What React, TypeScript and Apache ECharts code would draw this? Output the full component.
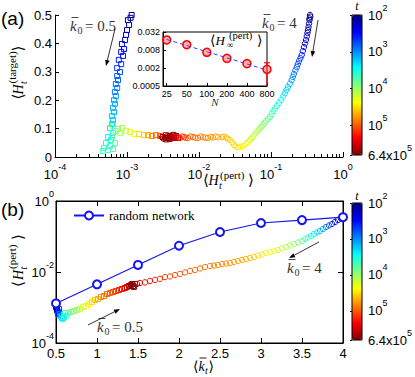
import React, { useEffect, useRef } from 'react';
import * as echarts from 'echarts';

// ---------------- data ----------------
// panel (a): [<H_t^(pert)>, <H_t^(target)>, log10 t]
const panelA_k05: number[][] = [
  [1.16e-3, 0.500, 2.00], [1.12e-3, 0.490, 2.05], [1.03e-3, 0.482, 2.10], [1.07e-3, 0.465, 2.15],
  [1.0e-3, 0.447, 2.20], [9.7e-4, 0.430, 2.30], [9.4e-4, 0.412, 2.35], [8.5e-4, 0.398, 2.40],
  [9.1e-4, 0.380, 2.45], [8.3e-4, 0.370, 2.50], [8.8e-4, 0.356, 2.55], [7.7e-4, 0.342, 2.60],
  [8.3e-4, 0.327, 2.65], [7.3e-4, 0.313, 2.70], [8.0e-4, 0.299, 2.75], [7.3e-4, 0.285, 2.80],
  [7.5e-4, 0.271, 2.85], [7.0e-4, 0.257, 2.90], [7.3e-4, 0.243, 2.95], [6.8e-4, 0.229, 3.00],
  [7.0e-4, 0.215, 3.05], [6.6e-4, 0.200, 3.10], [6.8e-4, 0.187, 3.12], [6.4e-4, 0.173, 3.15],
  [6.6e-4, 0.158, 3.18], [6.2e-4, 0.144, 3.20], [6.4e-4, 0.130, 3.25], [6.2e-4, 0.116, 3.30],
  [5.8e-4, 0.102, 3.35], [6.4e-4, 0.085, 3.40], [5.45e-4, 0.070, 3.45], [6.0e-4, 0.060, 3.50],
  [5.1e-4, 0.049, 3.55], [5.8e-4, 0.039, 3.60], [4.8e-4, 0.032, 3.62], [5.45e-4, 0.025, 3.65],
  [4.6e-4, 0.021, 3.68], [6.4e-4, 0.028, 3.70], [6.8e-4, 0.049, 3.75], [6.2e-4, 0.070, 3.80],
  [7.0e-4, 0.092, 3.85], [6.4e-4, 0.109, 3.90], [7.5e-4, 0.099, 4.00], [8.5e-4, 0.102, 4.05],
  [8.0e-4, 0.085, 4.10], [9.7e-4, 0.092, 4.20], [1.1e-3, 0.088, 4.30], [1.25e-3, 0.081, 4.40],
  [1.47e-3, 0.081, 4.50], [1.72e-3, 0.077, 4.60], [1.96e-3, 0.077, 4.70], [2.22e-3, 0.074, 4.85],
  [2.53e-3, 0.077, 4.95], [2.87e-3, 0.074, 5.05], [3.16e-3, 0.070, 5.30], [3.48e-3, 0.077, 5.50],
  [3.5e-3, 0.062, 5.70], [3.7e-3, 0.067, 5.65], [3.95e-3, 0.074, 5.75], [3.9e-3, 0.063, 5.78],
  [4.4e-3, 0.078, 5.79], [4.2e-3, 0.070, 5.80], [4.5e-3, 0.067, 5.80], [4.8e-3, 0.074, 5.80],
  [5.1e-3, 0.067, 5.75],
];
const panelA_k4: number[][] = [
  [0.348, 0.500, 2.00], [0.352, 0.494, 2.00], [0.343, 0.488, 2.03], [0.343, 0.482, 2.06],
  [0.338, 0.470, 2.10], [0.332, 0.458, 2.15], [0.326, 0.447, 2.20], [0.321, 0.437, 2.25],
  [0.314, 0.425, 2.30], [0.306, 0.412, 2.35], [0.297, 0.400, 2.40], [0.287, 0.387, 2.45],
  [0.277, 0.373, 2.52], [0.267, 0.359, 2.60], [0.256, 0.348, 2.65], [0.245, 0.338, 2.70],
  [0.236, 0.327, 2.75], [0.228, 0.317, 2.80], [0.218, 0.305, 2.88], [0.208, 0.292, 2.95],
  [0.201, 0.282, 3.00], [0.194, 0.271, 3.05], [0.183, 0.258, 3.12], [0.172, 0.246, 3.20],
  [0.164, 0.236, 3.25], [0.156, 0.225, 3.30], [0.147, 0.213, 3.38], [0.138, 0.201, 3.45],
  [0.129, 0.190, 3.50], [0.121, 0.180, 3.55], [0.114, 0.171, 3.60], [0.107, 0.162, 3.65],
  [0.102, 0.152, 3.70], [0.0968, 0.141, 3.75], [0.091, 0.134, 3.80], [0.0853, 0.127, 3.85],
  [0.081, 0.120, 3.90], [0.0774, 0.113, 3.95], [0.074, 0.108, 3.97], [0.0703, 0.102, 4.00],
  [0.067, 0.095, 4.05], [0.0632, 0.088, 4.10], [0.059, 0.079, 4.15], [0.0562, 0.070, 4.20],
  [0.053, 0.065, 4.22], [0.0511, 0.060, 4.25], [0.048, 0.053, 4.28], [0.045, 0.046, 4.30],
  [0.042, 0.040, 4.35], [0.0395, 0.037, 4.40], [0.037, 0.036, 4.42], [0.0348, 0.035, 4.45],
  [0.032, 0.038, 4.48], [0.0306, 0.042, 4.50], [0.029, 0.051, 4.52], [0.027, 0.060, 4.55],
  [0.025, 0.065, 4.58], [0.0237, 0.069, 4.60], [0.022, 0.071, 4.62], [0.0208, 0.070, 4.65],
  [0.0184, 0.070, 4.70], [0.017, 0.072, 4.72], [0.0156, 0.069, 4.75], [0.0145, 0.071, 4.78],
  [0.0133, 0.067, 4.80], [0.0124, 0.068, 4.83], [0.0114, 0.069, 4.85], [0.0105, 0.072, 4.88],
  [0.0097, 0.067, 4.90], [0.0089, 0.068, 4.92], [0.00826, 0.070, 4.95], [0.0076, 0.072, 4.97],
  [0.00703, 0.067, 5.00], [0.0065, 0.068, 5.05], [0.00619, 0.070, 5.10], [0.0058, 0.072, 5.15],
  [0.00545, 0.067, 5.20], [0.0051, 0.069, 5.28], [0.0048, 0.070, 5.35], [0.0045, 0.072, 5.42],
  [0.00422, 0.067, 5.50], [0.0040, 0.068, 5.58], [0.00371, 0.070, 5.65], [0.0035, 0.072, 5.70],
  [0.00337, 0.067, 5.75], [0.0032, 0.065, 5.78], [0.00306, 0.070, 5.80],
];
// panel (b): [<k_t>, <H_t^(pert)>, log10 t]
const panelB_k05: number[][] = [
  [0.5, 1.26e-3, 2.0], [0.505, 1.15e-3, 2.05], [0.5, 1.03e-3, 2.1], [0.51, 9.5e-4, 2.2],
  [0.512, 8.5e-4, 2.3], [0.52, 7.8e-4, 2.4], [0.524, 7.0e-4, 2.5], [0.537, 9.1e-4, 2.7],
  [0.53, 6.4e-4, 2.8], [0.549, 6.6e-4, 2.9], [0.561, 5.8e-4, 3.1], [0.573, 5.1e-4, 3.3],
  [0.585, 4.8e-4, 3.4], [0.598, 5.4e-4, 3.5], [0.61, 7.0e-4, 3.6], [0.62, 5.8e-4, 3.65],
  [0.646, 7.0e-4, 3.75], [0.683, 7.5e-4, 3.85], [0.72, 8.0e-4, 3.95], [0.756, 8.5e-4, 4.05],
  [0.793, 9.1e-4, 4.15], [0.829, 1.03e-3, 4.25], [0.866, 1.1e-3, 4.35], [0.902, 1.26e-3, 4.45],
  [0.939, 1.43e-3, 4.5], [0.976, 1.63e-3, 4.6], [1.012, 1.73e-3, 4.7], [1.049, 1.98e-3, 4.8],
  [1.085, 2.11e-3, 4.9], [1.122, 2.4e-3, 4.95], [1.159, 2.56e-3, 5.0], [1.195, 2.73e-3, 5.05],
  [1.232, 2.92e-3, 5.15], [1.268, 3.11e-3, 5.2], [1.305, 3.32e-3, 5.3], [1.341, 3.54e-3, 5.4],
  [1.366, 3.78e-3, 5.5], [1.39, 4.03e-3, 5.6], [1.415, 4.3e-3, 5.7], [1.439, 4.03e-3, 5.8],
  [1.463, 4.6e-3, 5.8], [1.43, 4.6e-3, 5.8], [1.45, 3.8e-3, 5.8],
];
const panelB_k4: number[][] = [
  [4.0, 0.354, 2.0], [3.995, 0.36, 2.0], [3.99, 0.345, 2.02], [3.985, 0.33, 2.08],
  [3.976, 0.321, 2.15], [3.939, 0.292, 2.3], [3.902, 0.256, 2.45], [3.866, 0.225, 2.6],
  [3.829, 0.204, 2.75], [3.793, 0.185, 2.9], [3.756, 0.163, 3.05], [3.72, 0.143, 3.2],
  [3.683, 0.13, 3.3], [3.646, 0.1175, 3.4], [3.61, 0.103, 3.5], [3.573, 0.0937, 3.6],
  [3.537, 0.0851, 3.7], [3.5, 0.0747, 3.8], [3.451, 0.0678, 3.9], [3.402, 0.0615, 4.0],
  [3.354, 0.0557, 4.05], [3.305, 0.0506, 4.1], [3.256, 0.0459, 4.15], [3.207, 0.0417, 4.2],
  [3.159, 0.0391, 4.3], [3.11, 0.0366, 4.35], [3.061, 0.0343, 4.4], [3.012, 0.0311, 4.45],
  [2.963, 0.0292, 4.5], [2.915, 0.0265, 4.55], [2.866, 0.0248, 4.6], [2.817, 0.0232, 4.65],
  [2.768, 0.0218, 4.7], [2.72, 0.0204, 4.72], [2.671, 0.0191, 4.75], [2.622, 0.0179, 4.78],
  [2.573, 0.0173, 4.8], [2.524, 0.0168, 4.82], [2.476, 0.0157, 4.85], [2.427, 0.0152, 4.87],
  [2.378, 0.0148, 4.9], [2.317, 0.0138, 4.92], [2.256, 0.0126, 4.95], [2.195, 0.0114, 4.97],
  [2.134, 0.0107, 5.0], [2.073, 0.0097, 5.02], [2.012, 0.0088, 5.05], [1.951, 0.0082, 5.07],
  [1.89, 0.0075, 5.1], [1.829, 0.0072, 5.15], [1.768, 0.0064, 5.2], [1.707, 0.006, 5.25],
  [1.646, 0.0056, 5.3], [1.585, 0.0051, 5.4], [1.524, 0.0049, 5.5], [1.488, 0.0046, 5.65],
];
const randomK = [0.5, 1, 1.5, 2, 2.5, 3, 3.5, 4];
const randomH = [1.3e-3, 4.5e-3, 0.0158, 0.055, 0.134, 0.24, 0.29, 0.35];
const insetN = [25, 50, 100, 200, 400, 800];
const insetH = [0.0173, 0.012, 0.0067, 0.0042, 0.0028, 0.0018];
const insetFitN = [25, 800];
const insetFitH = [0.018, 0.0017];
const insetErr = [[800, 0.0005, 0.003]];
const ticksAx = [1e-4, 1e-3, 1e-2, 1e-1, 1];
const ticksBy = [1e-4, 1e-2, 1];
const ticksInsetY = [0.0005, 0.002, 0.008, 0.032];
const labelsInsetY = ['0.0005', '0.002', '0.008', '0.032'];
const LT_MIN = 2;
const LT_MAX = 5.806; // log10(6.4e5)
const cbTicks = [2, 3, 4, 5, LT_MAX];

const JET = ['#000080', '#0000ff', '#0080ff', '#00ffff', '#80ff80', '#ffff00', '#ff8000', '#ff0000', '#800000'];
const SANS = "'Liberation Sans', Arial, sans-serif";
const SERIF = "'Liberation Serif', 'DejaVu Serif', serif";

const RICH = {
  b: { fontSize: 13, fontFamily: SANS, lineHeight: 24, color: '#000' },
  s: { fontSize: 9, fontFamily: SANS, lineHeight: 6, verticalAlign: 'top', color: '#000' },
};
const pow10 = (v: number) => {
  const e = Math.round(Math.log10(v));
  return `{b|10}{s|${e < 0 ? '-' + -e : e}}`;
};

type Piece = [string, number, number, number, boolean?];
const mathText = (x: number, y: number, rotation: number, pieces: Piece[], color = '#000', bars: number[][] = []) => ({
  type: 'group', x, y, rotation, silent: true,
  children: [
    ...pieces.map(([t, dx, dy, fs, it]) => ({
      type: 'text', x: dx, y: dy,
      style: {
        text: t, fontSize: fs, fontFamily: SERIF, fontStyle: it ? 'italic' : 'normal', fill: color,
        align: 'left', verticalAlign: 'middle', textAlign: 'left', textVerticalAlign: 'middle',
      },
    })),
    ...bars.map(([x1, x2, by]) => ({ type: 'line', shape: { x1, y1: by, x2, y2: by }, style: { stroke: color, lineWidth: 0.9 } })),
  ],
});

const arrow = (x1: number, y1: number, x2: number, y2: number) => {
  const dx = x2 - x1, dy = y2 - y1, L = Math.hypot(dx, dy), ux = dx / L, uy = dy / L;
  const hl = 6, hw = 2.3;
  const bx = x2 - ux * hl, by = y2 - uy * hl;
  return [
    { type: 'line', silent: true, shape: { x1, y1, x2: bx, y2: by }, style: { stroke: '#000', lineWidth: 0.8 } },
    { type: 'polygon', silent: true, shape: { points: [[x2, y2], [bx - uy * hw, by + ux * hw], [bx + uy * hw, by - ux * hw]] }, style: { fill: '#000' } },
  ];
};

const kbar = (x: number, y: number, val: string) =>
  mathText(x, y, 0, [['k', 0, 0, 15, true], ['0', 7.5, 4, 10], ['= ' + val, 15, 0, 15]], '#333', [[1.5, 8.5, -8.5]]);

const hollow = (data: number[][], xi: number, yi: number, shape: 'rect' | 'circle') => ({
  type: 'custom', xAxisIndex: xi, yAxisIndex: yi, data, silent: true,
  dimensions: ['x', 'y', 'lt'], encode: { x: 0, y: 1 },
  renderItem: (params: any, api: any) => {
    const p = api.coord([api.value(0), api.value(1)]);
    const c = api.visual('color');
    if (shape === 'rect') {
      return { type: 'rect', shape: { x: p[0] - 2.5, y: p[1] - 2.5, width: 5, height: 5 }, style: { fill: 'none', stroke: c, lineWidth: 1 } };
    }
    return { type: 'circle', shape: { cx: p[0], cy: p[1], r: 2.7 }, style: { fill: 'none', stroke: c, lineWidth: 1 } };
  },
});

const AX_LINE = { show: true, lineStyle: { color: '#000', width: 1 } };
const minorA: number[] = [];
for (let d = -4; d < 0; d++) for (let m = 2; m <= 9; m++) minorA.push(m * Math.pow(10, d));

export default function App() {
  const ref = useRef<HTMLDivElement>(null);
  useEffect(() => {
    if (!ref.current) return;
    const chart = echarts.init(ref.current, null, { renderer: 'svg' });
    const cbAxis = (gridIndex: number) => ({
      gridIndex, type: 'value', min: LT_MIN, max: LT_MAX, inverse: true, position: 'right',
      axisLine: { show: false }, splitLine: { show: false },
      axisTick: { show: true, inside: true, length: 2, customValues: cbTicks, lineStyle: { color: '#000' } },
      axisLabel: {
        customValues: cbTicks, margin: 6,
        formatter: (v: number) => (v > 5.5 ? '{b|6.4x10}{s|5}' : `{b|10}{s|${Math.round(v)}}`),
        rich: RICH,
      },
    });
    const option: any = {
      animation: false,
      backgroundColor: '#fff',
      grid: [
        { left: 55, top: 15, width: 288, height: 142, show: false, outerBoundsMode: 'none' },
        { left: 163, top: 32, width: 104, height: 54, show: true, backgroundColor: '#fff', borderColor: '#000', borderWidth: 1, outerBoundsMode: 'none' },
        { left: 56, top: 201, width: 287, height: 142, show: true, borderColor: '#000', borderWidth: 1, outerBoundsMode: 'none' },
        { left: 352, top: 15, width: 10, height: 140, show: true, borderColor: '#000', borderWidth: 1, z: 10, outerBoundsMode: 'none' },
        { left: 352, top: 203, width: 10, height: 137, show: true, borderColor: '#000', borderWidth: 1, z: 10, outerBoundsMode: 'none' },
      ],
      xAxis: [
        {
          gridIndex: 0, type: 'log', min: 1e-4, max: 1, position: 'bottom', axisLine: AX_LINE, splitLine: { show: false },
          axisTick: { inside: true, length: 5, customValues: ticksAx, lineStyle: { color: '#000' } },
          axisLabel: { customValues: ticksAx, margin: 5, formatter: pow10, rich: RICH },
        },
        {
          gridIndex: 0, type: 'log', min: 1e-4, max: 1, position: 'bottom', axisLine: { show: false }, splitLine: { show: false },
          axisTick: { inside: true, length: 3, customValues: minorA, lineStyle: { color: '#000' } },
          axisLabel: { show: false },
        },
        {
          gridIndex: 1, type: 'log', min: 22, max: 800, position: 'bottom', axisLine: AX_LINE, splitLine: { show: false },
          axisTick: { inside: true, length: 3, customValues: insetN, lineStyle: { color: '#000' } },
          axisLabel: { customValues: insetN, margin: 3, fontSize: 9, fontFamily: SANS, color: '#000', formatter: (v: number) => String(Math.round(v)) },
        },
        {
          gridIndex: 2, type: 'value', min: 0.5, max: 4, interval: 0.5, position: 'bottom', axisLine: AX_LINE, splitLine: { show: false },
          axisTick: { inside: true, length: 5, lineStyle: { color: '#000' } },
          axisLabel: { margin: 4, fontSize: 13, fontFamily: SANS, color: '#000' },
        },
        {
          gridIndex: 2, type: 'value', min: 0.5, max: 4, interval: 0.5, position: 'top', axisLine: AX_LINE, splitLine: { show: false },
          axisTick: { inside: true, length: 5, lineStyle: { color: '#000' } }, axisLabel: { show: false },
        },
        { gridIndex: 3, type: 'value', min: 0, max: 1, show: false },
        { gridIndex: 4, type: 'value', min: 0, max: 1, show: false },
      ],
      yAxis: [
        {
          gridIndex: 0, type: 'value', min: 0, max: 0.5, interval: 0.1, axisLine: AX_LINE, splitLine: { show: false },
          axisTick: { inside: true, length: 4, lineStyle: { color: '#000' } },
          axisLabel: { margin: 3, fontSize: 13, fontFamily: SANS, color: '#000' },
        },
        {
          gridIndex: 1, type: 'log', min: 0.0005, max: 0.032, axisLine: AX_LINE, splitLine: { show: false },
          axisTick: { inside: true, length: 3, customValues: ticksInsetY, lineStyle: { color: '#000' } },
          axisLabel: {
            customValues: ticksInsetY, margin: 3, fontSize: 9, fontFamily: SANS, color: '#000',
            formatter: (v: number) => {
              const i = ticksInsetY.findIndex((t) => Math.abs(t - v) / t < 1e-3);
              return i >= 0 ? labelsInsetY[i] : '';
            },
          },
        },
        {
          gridIndex: 2, type: 'log', min: 1e-4, max: 1, position: 'left', axisLine: AX_LINE, splitLine: { show: false },
          axisTick: { inside: true, length: 5, customValues: ticksBy, lineStyle: { color: '#000' } },
          axisLabel: { customValues: ticksBy, margin: 2, formatter: pow10, rich: RICH },
        },
        {
          gridIndex: 2, type: 'log', min: 1e-4, max: 1, position: 'right', axisLine: AX_LINE, splitLine: { show: false },
          axisTick: { inside: true, length: 5, customValues: ticksBy, lineStyle: { color: '#000' } },
          axisLabel: { show: false },
        },
        cbAxis(3),
        cbAxis(4),
      ],
      visualMap: [
        {
          type: 'continuous', seriesIndex: [1, 2], dimension: 2, min: LT_MIN, max: LT_MAX, inRange: { color: JET },
          inverse: true, orient: 'vertical', left: 352, top: 15, itemWidth: 10, itemHeight: 140, padding: 0,
          calculable: false, hoverLink: false, realtime: false,
        },
        {
          type: 'continuous', seriesIndex: [3, 4], dimension: 2, min: LT_MIN, max: LT_MAX, inRange: { color: JET },
          inverse: true, orient: 'vertical', left: 352, top: 203, itemWidth: 10, itemHeight: 137, padding: 0,
          calculable: false, hoverLink: false, realtime: false,
        },
      ],
      legend: {
        data: ['random network'], left: 73, top: 209, orient: 'horizontal', itemWidth: 30, itemHeight: 10, itemGap: 4, padding: 0,
        selectedMode: false, textStyle: { fontFamily: SERIF, fontSize: 13, color: '#000' },
      },
      series: [
        {
          name: 'random network', type: 'line', xAxisIndex: 3, yAxisIndex: 2,
          data: randomK.map((k, i) => [k, randomH[i]]),
          symbol: 'emptyCircle', symbolSize: 8, lineStyle: { color: '#1414f0', width: 1.2 },
          itemStyle: { color: '#1414f0', borderWidth: 1.2 }, silent: true,
        },
        hollow(panelA_k05, 0, 0, 'rect'),
        hollow(panelA_k4, 0, 0, 'circle'),
        hollow(panelB_k05, 3, 2, 'rect'),
        hollow(panelB_k4, 3, 2, 'circle'),
        {
          type: 'scatter', xAxisIndex: 2, yAxisIndex: 1, data: insetN.map((n, i) => [n, insetH[i]]),
          symbol: 'circle', symbolSize: 8, silent: true,
          itemStyle: { color: 'rgba(255,110,110,0.55)', borderColor: '#ff0000', borderWidth: 1.5, opacity: 1 },
        },
        {
          type: 'line', xAxisIndex: 2, yAxisIndex: 1, data: insetFitN.map((n, i) => [n, insetFitH[i]]),
          symbol: 'none', silent: true, z: 4, lineStyle: { color: '#3a3aff', width: 1, type: [4, 3] },
        },
        {
          type: 'custom', xAxisIndex: 2, yAxisIndex: 1, data: insetErr, silent: true,
          encode: { x: 0, y: [1, 2] },
          renderItem: (params: any, api: any) => {
            const x = api.value(0);
            const lo = api.coord([x, api.value(1)]);
            const hi = api.coord([x, api.value(2)]);
            return {
              type: 'group',
              children: [
                { type: 'line', shape: { x1: lo[0], y1: lo[1], x2: hi[0], y2: hi[1] }, style: { stroke: '#ff0000', lineWidth: 1.2 } },
                { type: 'line', shape: { x1: hi[0] - 3, y1: hi[1], x2: hi[0] + 3, y2: hi[1] }, style: { stroke: '#ff0000', lineWidth: 1.2 } },
              ],
            };
          },
        },
      ],
      graphic: {
        elements: [
          { type: 'text', x: 1, y: 18, silent: true, style: { text: '(a)', fontSize: 19, fontFamily: SANS, fill: '#000', align: 'left', verticalAlign: 'middle', textAlign: 'left', textVerticalAlign: 'middle' } },
          { type: 'text', x: 1, y: 209, silent: true, style: { text: '(b)', fontSize: 19, fontFamily: SANS, fill: '#000', align: 'left', verticalAlign: 'middle', textAlign: 'left', textVerticalAlign: 'middle' } },
          { type: 'text', x: 357, y: 6, silent: true, style: { text: 't', fontSize: 12, fontStyle: 'italic', fontFamily: SERIF, fill: '#000', align: 'center', verticalAlign: 'middle', textAlign: 'center', textVerticalAlign: 'middle' } },
          { type: 'text', x: 357, y: 196, silent: true, style: { text: 't', fontSize: 12, fontStyle: 'italic', fontFamily: SERIF, fill: '#000', align: 'center', verticalAlign: 'middle', textAlign: 'center', textVerticalAlign: 'middle' } },
          // axis titles
          mathText(0, 180, 0, [['\u27E8', 203, 0, 15], ['H', 208.5, 0, 14, true], ['t', 219, 5, 10, true], ['(pert)', 220, -5, 11], ['\u27E9', 248, 0, 15]]),
          mathText(18, 73.5, Math.PI / 2, [['\u27E8', -26, 0, 15], ['H', -21, 0, 14, true], ['t', -10.5, 5, 10, true], ['(target)', -10, -6, 11], ['\u27E9', 22, 0, 15]]),
          mathText(18, 261, Math.PI / 2, [['\u27E8', -26, 0, 15], ['H', -19, 0, 14, true], ['t', -8.5, 5, 10, true], ['(pert)', -8, -6, 11], ['\u27E9', 21, 0, 15]]),
          mathText(0, 366, 0, [['\u27E8', 193, 0, 14], ['k', 198.5, 0, 14, true], ['t', 205, 4, 10, true], ['\u27E9', 208.5, 0, 14]], '#000', [[199.5, 206.5, -8]]),
          // inset title and N
          mathText(0, 40, 0, [['\u27E8', 210, 0, 14], ['H', 215.5, 0, 13, true], ['\u221E', 227, 5, 9], ['(pert)', 229, -5, 10.5], ['\u27E9', 257, 0, 14]]),
          { type: 'text', x: 215, y: 102, silent: true, style: { text: 'N', fontSize: 11, fontStyle: 'italic', fontFamily: SERIF, fill: '#333', align: 'center', verticalAlign: 'middle', textAlign: 'center', textVerticalAlign: 'middle' } },
          // annotations
          kbar(70, 26, '0.5'),
          kbar(262, 23, '4'),
          kbar(97, 327, '0.5'),
          kbar(287, 268, '4'),
          ...arrow(115, 29, 106, 66),
          ...arrow(318, 20, 312, 57),
          ...arrow(88, 325, 120, 309),
          ...arrow(319, 242, 289, 258),
        ],
      },
    };
    chart.setOption(option);
    return () => chart.dispose();
  }, []);
  return <div ref={ref} style={{ position: 'fixed', left: 0, top: 0, width: 415, height: 377, background: '#fff' }} />;
}
